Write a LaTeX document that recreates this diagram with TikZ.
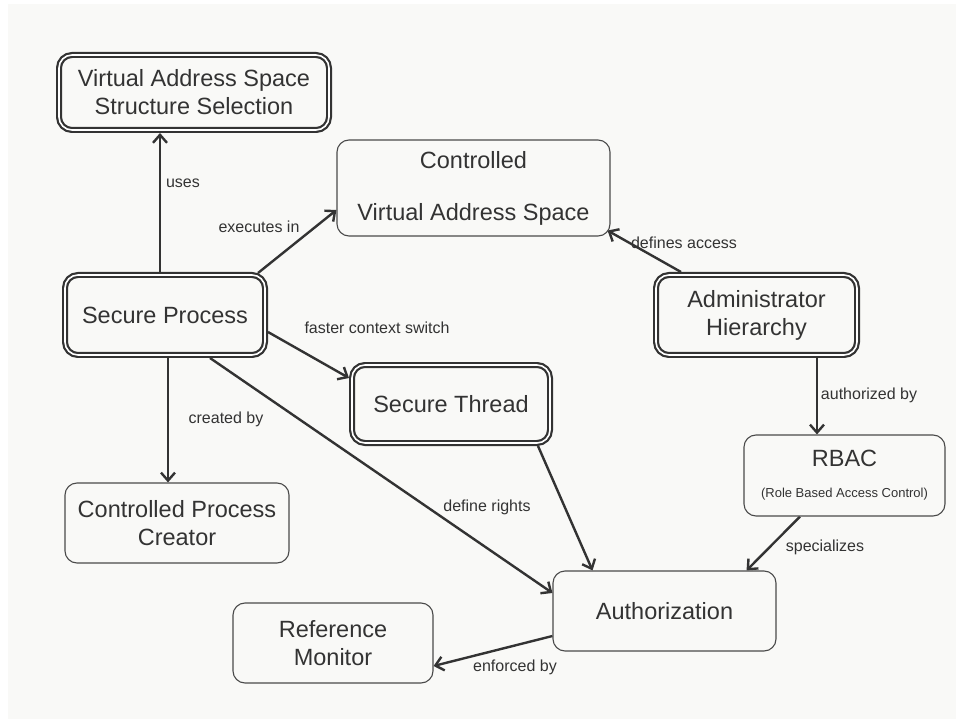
\documentclass[tikz,border=0pt]{standalone}
\usepackage{fontspec}
\setmainfont{Liberation Sans}
\usetikzlibrary{arrows.meta,calc}
\pgfdeclarelayer{bg}
\pgfdeclarelayer{edges}
\pgfsetlayers{bg,edges,main}
\definecolor{ink}{HTML}{333333}
\definecolor{paper}{HTML}{F9F9F7}
\definecolor{boxline}{HTML}{4A4A4A}
\newcommand\boxfont{\fontsize{23.5}{28}\selectfont}
\newcommand\lblfont{\fontsize{16}{19}\selectfont}
\newcommand\subfont{\fontsize{13}{15}\selectfont}
\begin{document}
\begin{tikzpicture}[x=1pt,y=-1pt,
  box/.style={draw=boxline, line width=1.1pt, fill=paper, rounded corners=12pt, align=center, font=\boxfont, text=ink, inner sep=0pt},
  dbox/.style={box, draw=ink, line width=2.2pt, double=white, double distance=1.6pt, outer sep=3pt, rounded corners=13pt},
  edge/.style={draw=ink, line width=2.4pt, -{Straight Barb[length=8pt,width=14pt]}},
  lbl/.style={font=\lblfont, text=ink, inner sep=0pt}]
\useasboundingbox (0,0) rectangle (956,719);
\begin{pgfonlayer}{bg}
\fill[paper] (8,4) rectangle (956,719);
\end{pgfonlayer}

\node[dbox, minimum width=270pt, minimum height=75pt] (vass) at (194,92.5) {Virtual Address Space\\Structure Selection};
\node[dbox, minimum width=200pt, minimum height=80pt] (sp) at (165,315) {Secure Process};
\node[dbox, minimum width=201pt, minimum height=80pt] (ah) at (756.5,315) {Administrator\\Hierarchy};
\node[dbox, minimum width=198pt, minimum height=78pt] (st) at (451,404) {Secure Thread};
\node[box, minimum width=273pt, minimum height=96pt] (cvas) at (473.5,188) {Controlled\\[24pt]Virtual Address Space};
\node[box, minimum width=201pt, minimum height=81pt] (rbac) at (844.5,475.5) {RBAC\\[3pt]{\subfont (Role Based Access Control)}};
\node[box, minimum width=224pt, minimum height=80pt] (cpc) at (177,523) {Controlled Process\\Creator};
\node[box, minimum width=223pt, minimum height=80pt] (auth) at (664.5,611) {Authorization};
\node[box, minimum width=200pt, minimum height=80pt] (rm) at (333,643) {Reference\\Monitor};

\begin{pgfonlayer}{edges}
\draw[edge] ([xshift=-5pt]sp.north) -- ([xshift=-5pt]sp.north |- vass.south);
\draw[edge] ([shift={(-10,1)}]sp.north east) -- ([shift={(0,22)}]cvas.west);
\draw[edge] ([shift={(28,0)}]ah.north west) -- ([shift={(-3,-6)}]cvas.south east);
\draw[edge] ([shift={(0,17)}]sp.east) -- ([shift={(0,-26)}]st.west);
\draw[edge] ([xshift=3pt]sp.south) -- ([xshift=3pt]sp.south |- cpc.north);
\draw[edge] ([xshift=45pt]sp.south) -- ([shift={(0,-18)}]auth.west);
\draw[edge] ([xshift=-15pt]st.south east) -- ([xshift=-72pt]auth.north);
\draw[edge] ([xshift=60.5pt]ah.south) -- ([xshift=60.5pt]ah.south |- rbac.north);
\draw[edge] ([xshift=-44.5pt]rbac.south) -- ([xshift=-30pt]auth.north east);
\draw[edge] ([shift={(0,25)}]auth.west) -- ([shift={(0,23)}]rm.east);
\end{pgfonlayer}

\node[lbl] (luses) at (183,183) {uses};
\node[lbl] (lexec) at (259,227) {executes in};
\node[lbl] (ldef) at (684,243) {defines access};
\node[lbl] (lfast) at (377,328) {faster context switch};
\node[lbl] (lcreated) at (226,419) {created by};
\node[lbl] (lrights) at (487,507) {define rights};
\node[lbl] (lauth) at (869,395) {authorized by};
\node[lbl] (lspec) at (825,547) {specializes};
\node[lbl] (lenf) at (515,667) {enforced by};
\end{tikzpicture}
\end{document}
